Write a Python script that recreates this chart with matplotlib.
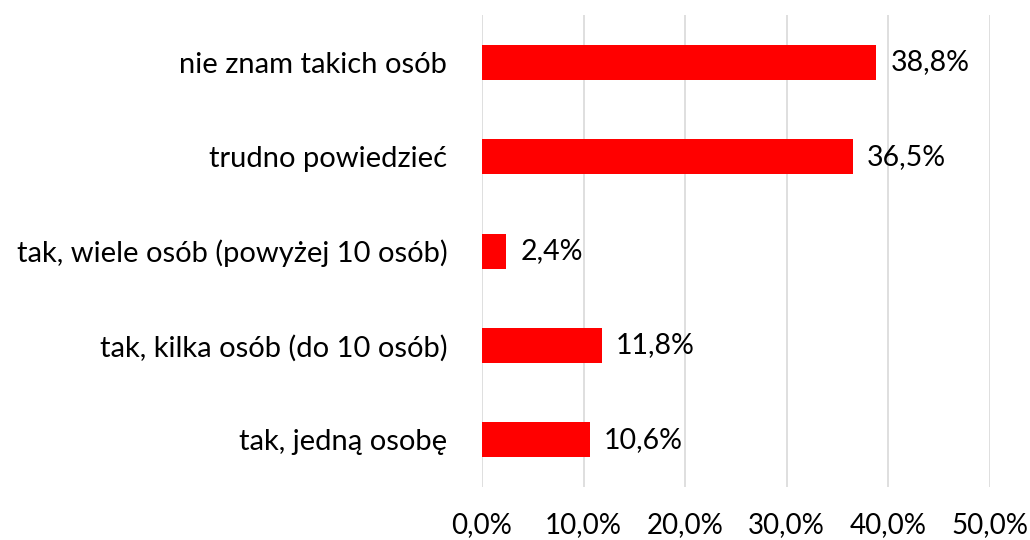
import matplotlib.pyplot as plt

plt.rcParams['font.family'] = ['Lato', 'DejaVu Sans']

categories = ['tak, jedną osobę', 'tak, kilka osób (do 10 osób)',
              'tak, wiele osób (powyżej 10 osób)', 'trudno powiedzieć',
              'nie znam takich osób']
values = [10.6, 11.8, 2.4, 36.5, 38.8]
xticks = [0, 10, 20, 30, 40, 50]

fig = plt.figure(figsize=(10.3, 5.4), dpi=100)
ax = fig.add_axes([0.468, 0.098, 0.493, 0.874])

pos = range(len(categories))
ax.barh(pos, values, height=0.37, color='#ff0000', zorder=3)
for p, v in zip(pos, values):
    ax.text(v + 1.4, p, f'{v:.1f}%'.replace('.', ','), va='center', ha='left',
            fontsize=20.5, color='#000000')

ax.set_xlim(0, 50)
ax.set_ylim(-0.5, 4.5)
ax.set_xticks(xticks)
ax.set_xticklabels([f'{t:.1f}%'.replace('.', ',') for t in xticks], fontsize=20)
ax.set_yticks(list(pos))
ax.set_yticklabels(categories, fontsize=21)
ax.tick_params(axis='x', length=0, pad=18)
ax.tick_params(axis='y', length=0, pad=25)
ax.grid(axis='x', color='#d9d9d9', linewidth=1.2, zorder=0)
for s in ax.spines.values():
    s.set_visible(False)

fig.savefig('out.png', dpi=100)
